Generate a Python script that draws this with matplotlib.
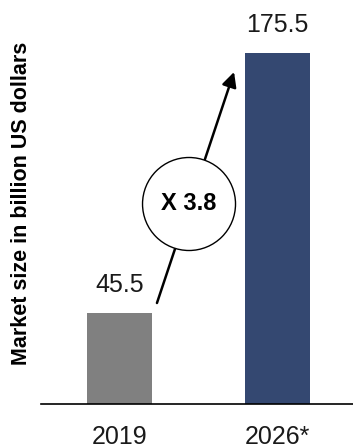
import matplotlib.pyplot as plt
from matplotlib.patches import Ellipse

years = ['2019', '2026*']
market_size = [45.5, 175.5]
bar_colors = ['#808080', '#344871']
growth_label = 'X 3.8'

plt.rcParams['font.family'] = ['Liberation Sans', 'DejaVu Sans']

fig = plt.figure(figsize=(3.53, 4.46), dpi=100)
ax = fig.add_axes([41/353, 42/446, 312/353, 400/446])

x = [0, 1]
ax.bar(x, market_size, width=0.411, color=bar_colors, zorder=2)
ax.set_xlim(-0.497, 1.478)
ax.set_ylim(0, 200)

for xi, v in zip(x, market_size):
    ax.annotate(f'{v}', (xi, v), xytext=(0, 28), textcoords='offset pixels',
                ha='center', va='center', fontsize=18, color='#1a1a1a')

ax.set_xticks(x)
ax.set_xticklabels(years, fontsize=18, color='#1a1a1a')
ax.tick_params(axis='x', length=0, pad=15)
ax.set_yticks([])
for s in ['left', 'right', 'top']:
    ax.spines[s].set_visible(False)
ax.spines['bottom'].set_linewidth(1.2)

# growth arrow with circled multiplier
ax.annotate('', xy=(0.725, 166), xytext=(0.237, 50.5),
            arrowprops=dict(arrowstyle='-|>', lw=1.8, color='black',
                            mutation_scale=22, shrinkA=0, shrinkB=0), zorder=3)
ax.add_patch(Ellipse((0.44, 100), 93/158, 93/2, facecolor='white',
                     edgecolor='black', lw=1.0, zorder=4))
ax.text(0.44, 100, growth_label, ha='center', va='center', fontsize=17,
        fontweight='bold', zorder=5)

fig.text(22/353, 1 - 203/446, 'Market size in billion US dollars', rotation=90,
         ha='center', va='center', fontsize=15.5, fontweight='bold')

fig.savefig('out.png', dpi=100)
